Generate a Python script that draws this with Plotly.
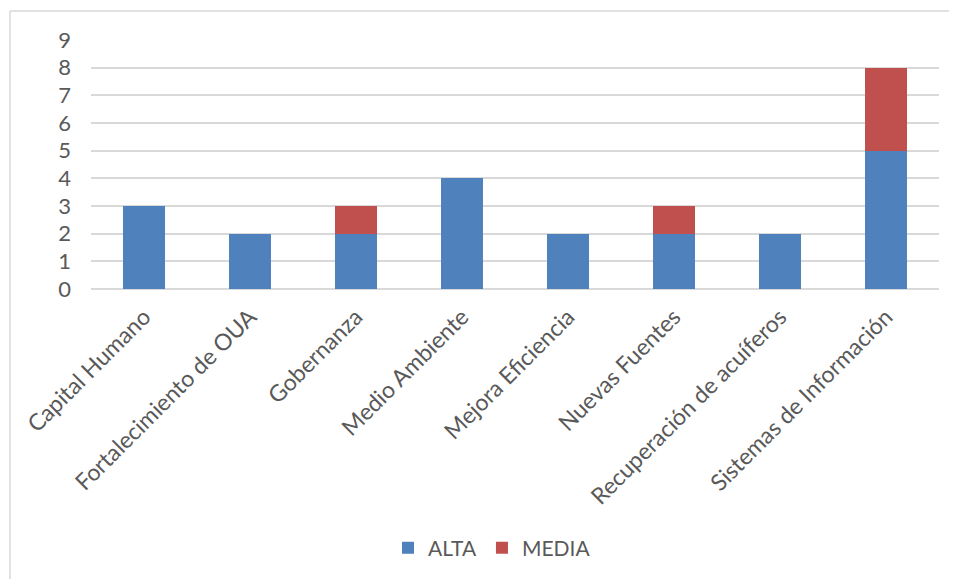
import plotly.graph_objects as go

categories = ["Capital Humano", "Fortalecimiento de OUA", "Gobernanza", "Medio Ambiente",
              "Mejora Eficiencia", "Nuevas Fuentes", "Recuperación de acuíferos",
              "Sistemas de Información"]
alta = [3, 2, 2, 4, 2, 2, 2, 5]
media = [0, 0, 1, 0, 0, 1, 0, 3]
y_ticks = list(range(0, 10))

FONT = "Lato"
GRAY = "#595959"

OFF = 8  # default body margin of the html page
W, H = 957 - OFF, 579 - OFF

# plot area in screen pixels of the reference
SX0, SX1, SY0, SY1 = 91, 939, 40, 289
L, R, T, B = SX0 - OFF, W - (SX1 - OFF), SY0 - OFF, H - (SY1 - OFF)
pw = SX1 - SX0
ph = SY1 - SY0

def px_x(x):
    return (x - SX0) / pw

def px_y(y):
    return (SY1 - y) / ph

fig = go.Figure()
fig.add_trace(go.Bar(x=categories, y=alta, name="ALTA", marker=dict(color="#4F81BD", line=dict(width=0))))
fig.add_trace(go.Bar(x=categories, y=media, name="MEDIA", marker=dict(color="#C0504D", line=dict(width=0))))

fig.update_layout(
    width=W, height=H,
    barmode="stack", bargap=0.6,
    margin=dict(l=L, r=R, t=T, b=B, autoexpand=False),
    paper_bgcolor="white", plot_bgcolor="white",
    font=dict(family=FONT, color=GRAY, size=22),
    showlegend=True,
    legend=dict(orientation="h", x=px_x(492), xanchor="center", y=px_y(548), yanchor="middle",
                font=dict(size=21, color=GRAY), itemwidth=30, traceorder="normal"),
    xaxis=dict(tickangle=-45, showgrid=False, showline=False, ticks="", ticklabelstandoff=9,
               tickfont=dict(size=23, color=GRAY)),
    yaxis=dict(range=[0, 9], tickvals=y_ticks, showgrid=True, gridcolor="#D9D9D9", gridwidth=1.5,
               zeroline=True, zerolinecolor="#D9D9D9", zerolinewidth=1.5, showline=False,
               ticks="", ticklabelstandoff=19, tickfont=dict(size=22, color=GRAY)),
    shapes=[
        dict(type="line", xref="paper", yref="paper", x0=px_x(10), x1=px_x(960), y0=px_y(11), y1=px_y(11),
             line=dict(color="#D9D9D9", width=1.5)),
        dict(type="line", xref="paper", yref="paper", x0=px_x(10), x1=px_x(10), y0=px_y(11), y1=px_y(582),
             line=dict(color="#D9D9D9", width=1.5)),
    ],
)

fig.write_html("out.html")
